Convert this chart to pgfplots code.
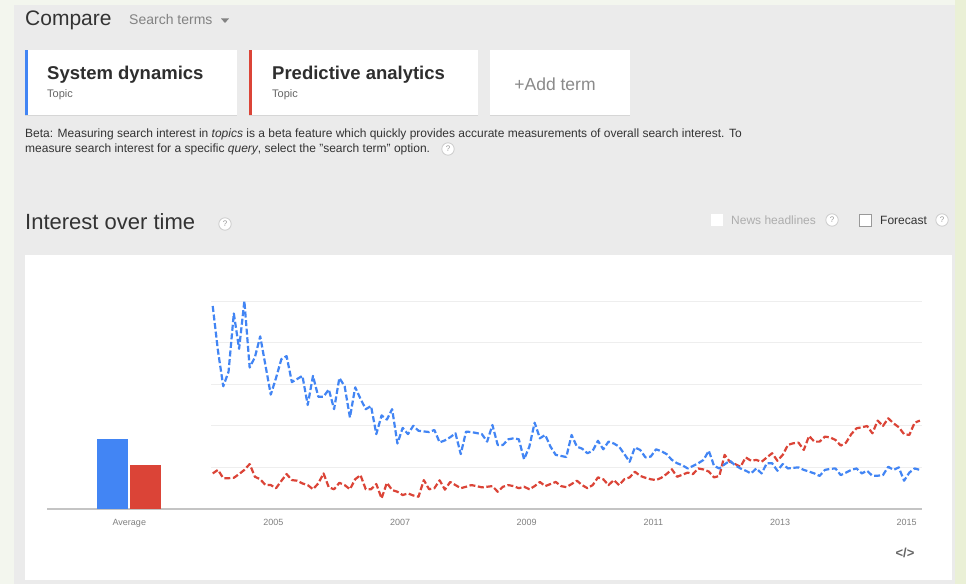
\documentclass[border=0pt]{standalone}
\usepackage{pgfplots}
\pgfplotsset{compat=1.18}
\usepackage{pgfplotstable}
\usepackage{fontspec}
\setmainfont{Liberation Sans}
\definecolor{gblue}{HTML}{4285F4}
\definecolor{gred}{HTML}{DB4437}
\definecolor{bgc}{HTML}{EBEBEB}
\definecolor{edgec}{HTML}{F3F6EE}
\definecolor{edgeR}{HTML}{EAF0D6}
\definecolor{gridc}{HTML}{EEEEEE}
\definecolor{basec}{HTML}{C4C4C4}
\definecolor{tickc}{HTML}{808080}
\definecolor{darkt}{HTML}{333333}
\definecolor{midt}{HTML}{666666}
\definecolor{lightt}{HTML}{999999}
\definecolor{qc}{HTML}{CCCCCC}
\definecolor{shadowc}{HTML}{D6D6D6}

\pgfplotstableread{
m v
0 97.6
1 76
2 59
3 66
4 94
5 77
6 100
7 68
8 73
9 83
10 69
11 55
12 63
13 72
14 73.5
15 61
16 62.5
17 64
18 50
19 64
20 54
21 54
22 57.5
23 48
24 63
25 59
26 44
27 58.5
28 53
29 48
30 49.5
31 36
32 45
33 43
34 48
35 31.5
36 39
37 36
38 40
39 37.6
40 37.3
41 37
42 38
43 32
44 33
45 34.5
46 36.4
47 26.4
48 37.2
49 37
50 36.5
51 36
52 32.4
53 40.4
54 30.8
55 30.8
56 33.5
57 34
58 33.5
59 23.9
60 30
61 41.5
62 34
63 35.6
64 30
65 26
66 25.5
67 25
68 35.6
69 30
70 29
71 26.8
72 28
73 32.8
74 28.7
75 32.4
76 31.5
77 30
78 26.4
79 22.7
80 29.6
81 28.4
82 24.8
83 25.2
84 28.7
85 27.8
86 26.4
87 23.6
88 22
89 21
90 19.5
91 20.7
92 22
93 23.6
94 28
95 20.7
96 19.5
97 21.5
98 23.2
99 21
100 19.5
101 18.4
102 17.1
103 19.5
104 17.1
105 22
106 22
107 18.4
108 21.6
109 19.5
110 19.8
111 20
112 18.8
113 18
114 17.1
115 15.9
116 18.8
117 19.3
118 19.5
119 16.3
120 17.5
121 18.8
122 19.5
123 17.1
124 18.4
125 15.9
126 16
127 16.3
128 20.3
129 18.8
130 20
131 13.6
132 17.5
133 19.5
134 18.8
}\sysdyn

\pgfplotstableread{
m v
0 17.1
1 18.8
2 14.8
3 14.8
4 15
5 16.8
6 18.8
7 21.6
8 15.5
9 14.3
10 11.5
11 11.5
12 10
13 13.5
14 16.8
15 13.9
16 13.6
17 12.3
18 11.5
19 9.5
20 12.3
21 17.1
22 10.4
23 9.5
24 12.6
25 11.5
26 9.5
27 14.3
28 16.3
29 9.5
30 9.5
31 12
32 5.1
33 12.6
34 9.1
35 8.3
36 6.7
37 7.5
38 6.5
39 5.9
40 13.9
41 9.5
42 10
43 13.8
44 9.3
45 13
46 11.5
47 10
48 10.7
49 11.5
50 11
51 10.4
52 10.7
53 11
54 8.3
55 10.7
56 11.5
57 11
58 10
59 10.7
60 9.5
61 11
62 13
63 11
64 12
65 13
66 11
67 10.5
68 12
69 13.6
70 11.5
71 10
72 11.5
73 15.2
74 14.3
75 11.5
76 13.9
77 11.5
78 14.3
79 15.2
80 17.9
81 15.9
82 15
83 14.3
84 13.9
85 15
86 16.8
87 19.1
88 15.5
89 16.5
90 17.5
91 16.8
92 19.5
93 19
94 18
95 15.2
96 15.9
97 26
98 22.7
99 21.6
100 20.3
101 24.8
102 23.2
103 23.6
104 22.7
105 24.8
106 26.8
107 23.2
108 26
109 30.8
110 31.6
111 31.9
112 28.4
113 35.1
114 32.4
115 32.4
116 34.8
117 34.4
118 33.2
119 30.5
120 31.9
121 36
122 38.8
123 39.3
124 39.9
125 36.4
126 42.5
127 39.9
128 43.6
129 41.2
130 39.3
131 36
132 35.6
133 41.5
134 42.5
}\predan

\newcommand{\fs}[1]{\fontsize{#1}{#1}\selectfont}
\newcommand{\qicon}[2]{%
  \filldraw[fill=white, draw=qc, line width=0.8pt] (#1,#2) circle (6.2pt);
  \node[inner sep=0pt, font=\fs{8}, text=lightt] at (#1,#2) {?};}

\begin{document}
\begin{tikzpicture}
\useasboundingbox (0,0) rectangle (966pt,584pt);
\fill[edgec] (0,0) rectangle (966pt,584pt);
\fill[edgeR] (955pt,0) rectangle (966pt,584pt);
\fill[bgc] (14pt,0) rectangle (955pt,579pt);

\begin{scope}[x=1pt, y=-1pt, yshift=584pt]
  % header
  \node[anchor=base west, inner sep=0pt, font=\fs{21}, text=darkt] at (25,26) {Compare};
  \node[anchor=base west, inner sep=0pt, font=\fs{14}, text=lightt!85!black] at (129,24.5) {Search terms};
  \fill[lightt!85!black] (221,18.5) -- (229,18.5) -- (225,23) -- cycle;
  % cards
  \foreach \a/\b in {25/237, 249/478, 490/630} {
    \fill[shadowc] (\a,51) rectangle (\b,116.5);
    \fill[white] (\a,50) rectangle (\b,115);
  }
  \fill[gblue] (25,50) rectangle (28,115);
  \fill[gred] (249,50) rectangle (252,115);
  \node[anchor=base west, inner sep=0pt, font=\bfseries\fs{18.5}, text=darkt!90!black] at (47,79.5) {System dynamics};
  \node[anchor=base west, inner sep=0pt, font=\fs{11}, text=midt] at (47,97.5) {Topic};
  \node[anchor=base west, inner sep=0pt, font=\bfseries\fs{18.5}, text=darkt!90!black] at (272,79.5) {Predictive analytics};
  \node[anchor=base west, inner sep=0pt, font=\fs{11}, text=midt] at (272,97.5) {Topic};
  \node[anchor=center, inner sep=0pt, font=\fs{17.5}, text=lightt!90!black] at (555,84) {+Add term};
  % beta text
  \node[anchor=base west, inner sep=0pt, font=\fs{12}, text=darkt] at (25,137.5) {Beta: Measuring search interest in \textit{topics} is a beta feature which quickly provides accurate measurements of overall search interest. To};
  \node[anchor=base west, inner sep=0pt, font=\fs{12}, text=darkt] at (25,152.5) {measure search interest for a specific \textit{query}, select the "search term" option.};
  \qicon{448}{149}
  % interest over time
  \node[anchor=base west, inner sep=0pt, font=\fs{22}, text=darkt] at (25,229.5) {Interest over time};
  \qicon{225}{224}
  \fill[white] (711,214) rectangle (723,226);
  \node[anchor=west, inner sep=0pt, font=\fs{12}, text=lightt!80!white] at (731,220) {News headlines};
  \qicon{832}{220}
  \filldraw[fill=white, draw=lightt, line width=0.8pt] (859,214) rectangle (871,226);
  \node[anchor=west, inner sep=0pt, font=\fs{12}, text=darkt] at (880,220) {Forecast};
  \qicon{942}{220}
  % chart panel
  \fill[white] (25,255) rectangle (952,580);
  \node[anchor=center, inner sep=0pt, font=\bfseries\fs{13}, text=midt] at (905,553) {</>};
\end{scope}

\begin{axis}[
  at={(47pt,75pt)}, anchor=south west,
  scale only axis, width=875pt, height=208pt,
  xmin=-31.4, xmax=134.4, ymin=0, ymax=100,
  clip=false,
  axis x line*=bottom, axis y line=none,
  x axis line style={draw=basec, line width=2pt},
  xtick={-15.8,11.5,35.5,59.5,83.5,107.5,131.5},
  xticklabels={Average,2005,2007,2009,2011,2013,2015},
  major tick length=0pt, tick style={draw=none},
  xticklabel style={font=\fs{9}, text=tickc, inner sep=0pt, anchor=north, yshift=-10pt},
  ytick=\empty,
]
  \foreach \g in {20,40,60,80,100} {
    \edef\tmp{\noexpand\draw[gridc, line width=1pt] (axis cs:-0.3,\g) -- (axis cs:134.4,\g);}
    \tmp
  }
  \addplot[ybar, bar width=5.87, bar shift=0pt, fill=gblue, draw=none] coordinates {(-18.96,33.7)};
  \addplot[ybar, bar width=5.87, bar shift=0pt, fill=gred, draw=none] coordinates {(-12.75,21.2)};
  \addplot[gred, line width=2.2pt, dash pattern=on 6pt off 2.6pt, line join=round] table[x=m, y=v] {\predan};
  \addplot[gblue, line width=2.2pt, dash pattern=on 6pt off 2.6pt, line join=round] table[x=m, y=v] {\sysdyn};
\end{axis}
\end{tikzpicture}
\end{document}
